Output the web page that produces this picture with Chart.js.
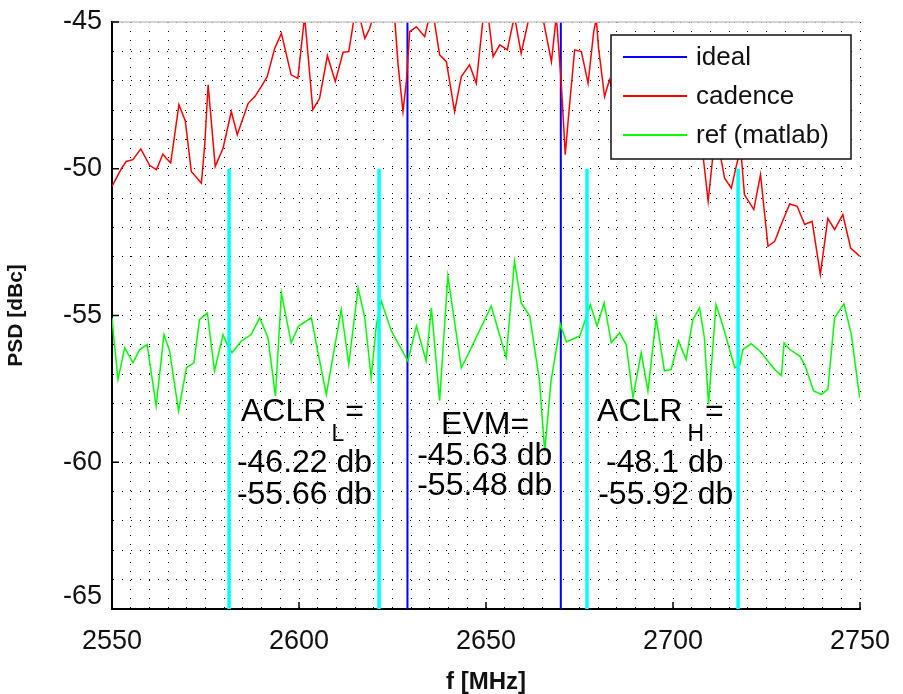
<!DOCTYPE html>
<html>
<head>
<meta charset="utf-8">
<script src="https://cdn.jsdelivr.net/npm/chart.js@4.4.1/dist/chart.umd.min.js"></script>
<style>
  html, body { margin: 0; padding: 0; background: #fff; }
</style>
</head>
<body>
<canvas id="psdChart" width="903" height="694"></canvas>
<script>
const FONT = '"Liberation Sans", Helvetica, Arial, sans-serif';

// cadence simulation, f [MHz] / PSD [dBc]
const cadenceFreq = [2550.0, 2552.5, 2553.8, 2555.6, 2557.7, 2560.1, 2561.9, 2563.6, 2564.5, 2565.7,
  2567.9, 2569.6, 2571.2, 2573.9, 2574.8, 2575.7, 2577.6, 2579.7, 2581.9, 2583.5,
  2586.4, 2588.2, 2589.9, 2591.5, 2593.5, 2595.3, 2597.9, 2599.7, 2601.5, 2603.7,
  2605.5, 2607.6, 2609.7, 2611.8, 2613.3, 2614.7, 2616.0, 2617.6, 2618.9, 2620.3,
  2622.2, 2624.0, 2625.6, 2626.5, 2627.8, 2628.7, 2629.6, 2631.4, 2633.6, 2634.7,
  2636.1, 2637.6, 2639.4, 2641.6, 2643.4, 2645.6, 2647.4, 2649.2, 2650.6, 2651.9,
  2653.7, 2655.7, 2657.6, 2659.4, 2661.6, 2664.8, 2667.5, 2668.8, 2670.1, 2671.2,
  2672.1, 2673.7, 2675.5, 2677.3, 2678.8, 2679.5, 2680.1, 2681.7, 2683.0, 2685.0,
  2687.0, 2689.0, 2691.0, 2693.0, 2695.0, 2697.0, 2699.0, 2701.0, 2703.0, 2705.0,
  2707.2, 2709.4, 2711.2, 2712.6, 2713.8, 2715.6, 2716.9, 2718.1, 2719.1, 2721.6,
  2723.4, 2725.4, 2727.2, 2729.1, 2731.2, 2733.2, 2735.2, 2737.2, 2739.4, 2741.4,
  2743.2, 2745.4, 2747.5, 2749.9];
const cadencePsd = [-50.60, -50.00, -49.75, -49.69, -49.32, -49.89, -50.03, -49.50, -49.64, -49.80,
  -47.82, -48.37, -50.09, -50.49, -49.18, -47.14, -49.92, -49.30, -48.05, -48.84,
  -47.77, -47.54, -47.20, -46.86, -45.90, -45.39, -46.80, -46.92, -44.80, -47.99,
  -47.60, -46.15, -47.03, -46.03, -46.01, -44.90, -44.70, -45.56, -45.22, -44.60,
  -44.40, -44.70, -44.90, -46.46, -48.05, -47.03, -45.33, -45.16, -45.50, -44.90,
  -44.90, -46.12, -46.35, -48.05, -46.86, -46.46, -47.09, -44.90, -44.80, -46.18,
  -45.78, -45.95, -44.80, -46.07, -44.80, -44.60, -46.35, -44.80, -47.03, -49.52,
  -48.16, -45.95, -46.01, -47.09, -45.33, -44.90, -45.90, -47.54, -46.97, -47.80,
  -47.20, -48.30, -47.60, -48.60, -48.00, -49.00, -48.40, -49.30, -48.70, -49.40,
  -48.60, -51.11, -48.90, -49.50, -50.32, -50.66, -49.92, -49.30, -50.88, -51.39,
  -50.20, -52.64, -52.47, -51.85, -51.20, -51.28, -51.90, -51.79, -53.60, -51.69,
  -52.07, -51.56, -52.70, -52.98];

// reference (matlab)
const refFreq = [2550.0, 2550.4, 2551.6, 2553.4, 2555.6, 2557.4, 2559.4, 2561.8, 2563.9, 2565.4,
  2567.8, 2569.9, 2571.9, 2573.4, 2575.5, 2577.4, 2579.7, 2580.8, 2582.1, 2584.6,
  2587.2, 2589.5, 2591.7, 2593.7, 2595.3, 2597.9, 2599.9, 2603.3, 2605.0, 2607.3,
  2609.5, 2611.3, 2613.3, 2615.8, 2617.6, 2619.3, 2620.7, 2622.0, 2624.7, 2629.1,
  2631.4, 2634.0, 2635.4, 2637.6, 2639.8, 2643.4, 2645.2, 2651.4, 2655.4, 2657.6,
  2659.4, 2661.7, 2664.3, 2665.7, 2667.4, 2669.9, 2671.5, 2675.1, 2677.9, 2679.7,
  2681.6, 2683.5, 2685.7, 2687.5, 2689.3, 2691.5, 2693.3, 2695.5, 2697.7, 2699.5,
  2701.5, 2703.5, 2705.3, 2707.1, 2708.4, 2709.5, 2711.5, 2713.5, 2716.5, 2717.8,
  2718.7, 2720.9, 2723.2, 2727.2, 2729.0, 2729.7, 2731.2, 2733.9, 2735.2, 2737.6,
  2739.7, 2741.4, 2743.2, 2745.7, 2747.7, 2749.9];
const refPsd = [-55.08, -55.65, -57.18, -56.10, -56.61, -56.16, -55.99, -58.08, -55.65, -56.21,
  -58.25, -56.78, -56.61, -55.14, -54.91, -56.89, -55.65, -55.99, -56.27, -55.87,
  -55.65, -55.08, -55.76, -57.74, -54.23, -55.93, -55.36, -55.08, -56.21, -57.69,
  -56.10, -54.80, -56.67, -54.06, -55.08, -57.12, -55.31, -54.51, -55.53, -56.55,
  -55.36, -56.55, -54.74, -57.90, -53.66, -56.78, -56.33, -54.68, -56.44, -53.15,
  -54.57, -55.02, -57.23, -59.62, -57.23, -55.31, -55.90, -55.70, -54.63, -55.36,
  -54.57, -55.93, -55.59, -55.99, -57.80, -56.27, -57.57, -55.08, -56.89, -56.84,
  -55.87, -56.50, -55.14, -54.74, -55.76, -58.03, -54.63, -55.42, -56.78, -56.70,
  -56.16, -55.96, -56.21, -56.84, -57.05, -55.93, -56.16, -56.38, -56.67, -57.57,
  -57.69, -57.52, -55.08, -54.60, -55.65, -57.80];

// ideal spectrum edges (top runs off the plot)
const idealFreq = [2629, 2629, 2670, 2670];
const idealPsd = [-65, -40, -40, -65];

// ACLR / EVM integration band edges
const bandEdgeFreq = [2581.3, 2621.4, 2677.0, 2717.4];
const bandEdgeTop = -50;
const bandEdgeBottom = -65;

const xMajorTicks = [2550, 2600, 2650, 2700, 2750];
const yMajorTicks = [-65, -60, -55, -50, -45];

// text notes, anchored at (MHz, dBc) of their left baseline
const notes = [
  { text: 'ACLR', sub: 'L', tail: '=', f: 2584.5, db: -58.6 },
  { text: '-46.22 db', f: 2583.4, db: -60.34 },
  { text: '-55.66 db', f: 2583.4, db: -61.43 },
  { text: 'EVM=', f: 2638.0, db: -59.05 },
  { text: '-45.63 db', f: 2631.6, db: -60.10 },
  { text: '-55.48 db', f: 2631.6, db: -61.12 },
  { text: 'ACLR', sub: 'H', tail: '=', f: 2679.7, db: -58.6 },
  { text: '-48.1 db', f: 2682.1, db: -60.34 },
  { text: '-55.92 db', f: 2680.0, db: -61.43 }
];

const toPoints = (xs, ys) => xs.map((x, i) => ({ x: x, y: ys[i] }));
const edgePoints = bandEdgeFreq.flatMap(f => [
  { x: f, y: bandEdgeTop }, { x: f, y: bandEdgeBottom }, { x: f, y: null }
]);

const overlay = {
  id: 'overlay',
  afterDatasetsDraw(chart) {
    const { ctx, chartArea: a, scales: { x, y } } = chart;
    ctx.save();
    // light top edge of the box
    ctx.strokeStyle = '#c8c8c8';
    ctx.lineWidth = 1.5;
    ctx.beginPath();
    ctx.moveTo(a.left, a.top);
    ctx.lineTo(a.right, a.top);
    ctx.stroke();

    // inward tick marks
    ctx.strokeStyle = '#000';
    ctx.lineWidth = 1.5;
    xMajorTicks.forEach(v => {
      const px = x.getPixelForValue(v);
      ctx.beginPath();
      ctx.moveTo(px, a.bottom);
      ctx.lineTo(px, a.bottom - 7);
      ctx.stroke();
    });
    yMajorTicks.forEach(v => {
      const py = y.getPixelForValue(v);
      ctx.beginPath();
      ctx.moveTo(a.left, py);
      ctx.lineTo(a.left + 7, py);
      ctx.stroke();
    });

    // notes
    ctx.fillStyle = '#000';
    ctx.textBaseline = 'alphabetic';
    ctx.textAlign = 'left';
    notes.forEach(n => {
      const px = x.getPixelForValue(n.f);
      const py = y.getPixelForValue(n.db);
      ctx.font = '32px ' + FONT;
      ctx.fillText(n.text, px, py);
      if (n.sub) {
        const w = ctx.measureText(n.text).width;
        ctx.font = '23px ' + FONT;
        const sw = ctx.measureText(n.sub).width;
        ctx.fillText(n.sub, px + w + 5, py + 20);
        ctx.font = '32px ' + FONT;
        ctx.fillText(n.tail, px + w + sw + 6, py);
      }
    });

    // bottom y label sits a bit higher in the original
    ctx.font = '27px ' + FONT;
    ctx.textAlign = 'right';
    ctx.textBaseline = 'middle';
    ctx.fillStyle = '#111';
    ctx.fillText('-65', a.left - 10, y.getPixelForValue(-65) - 12);
    ctx.restore();
  },
  afterDraw(chart) {
    const { ctx } = chart;
    const box = { left: 611, top: 35, width: 240, height: 124 };
    ctx.save();
    ctx.fillStyle = '#fff';
    ctx.fillRect(box.left, box.top, box.width, box.height);
    ctx.strokeStyle = '#111';
    ctx.lineWidth = 1.5;
    ctx.strokeRect(box.left, box.top, box.width, box.height);
    const rows = chart.data.datasets.filter(d => d.inLegend);
    ctx.font = '26px ' + FONT;
    ctx.textAlign = 'left';
    ctx.textBaseline = 'alphabetic';
    rows.forEach((d, i) => {
      const ly = box.top + 22 + i * 39;
      ctx.strokeStyle = d.borderColor;
      ctx.lineWidth = 2;
      ctx.beginPath();
      ctx.moveTo(box.left + 12, ly);
      ctx.lineTo(box.left + 76, ly);
      ctx.stroke();
      ctx.fillStyle = '#111';
      ctx.fillText(d.label, box.left + 85, ly + 8);
    });
    ctx.restore();
  }
};

new Chart(document.getElementById('psdChart'), {
  type: 'line',
  data: {
    datasets: [
      { label: 'ideal', inLegend: true, data: toPoints(idealFreq, idealPsd),
        borderColor: '#0000ff', borderWidth: 2, order: 3 },
      { label: 'cadence', inLegend: true, data: toPoints(cadenceFreq, cadencePsd),
        borderColor: '#ff0000', borderWidth: 1.5, order: 2 },
      { label: 'ref (matlab)', inLegend: true, data: toPoints(refFreq, refPsd),
        borderColor: '#00ff00', borderWidth: 1.5, order: 1 },
      { label: 'band edges', inLegend: false, data: edgePoints,
        borderColor: '#00ffff', borderWidth: 3.5, order: 0 }
    ]
  },
  options: {
    responsive: false,
    animation: false,
    events: [],
    elements: { point: { radius: 0 }, line: { tension: 0 } },
    layout: { padding: { left: 0, top: 22, right: 43, bottom: 0 } },
    plugins: { legend: { display: false }, tooltip: { enabled: false } },
    scales: {
      x: {
        type: 'linear',
        min: 2550,
        max: 2750,
        afterFit: s => {
          s.height = 85;
          s.paddingLeft = 0;
          s.paddingRight = 0;
        },
        ticks: {
          stepSize: 5,
          autoSkip: false,
          maxRotation: 0,
          padding: 16,
          color: '#111',
          font: { family: FONT, size: 27 },
          callback: v => (Math.round(v) % 50 === 0 ? String(Math.round(v)) : '')
        },
        grid: { color: '#000', lineWidth: 1, drawTicks: false },
        border: { color: '#000', width: 2, dash: [1, 8] },
        title: { display: true, text: 'f [MHz]', color: '#111',
          font: { family: FONT, size: 24, weight: 'bold', lineHeight: 1 }, padding: { top: 0, bottom: 0 } }
      },
      y: {
        min: -65,
        max: -45,
        afterFit: s => {
          s.width = 112;
          s.paddingTop = 0;
          s.paddingBottom = 0;
        },
        ticks: {
          stepSize: 1,
          autoSkip: false,
          padding: 10,
          color: '#111',
          font: { family: FONT, size: 27 },
          callback: v => (Math.round(v) % 5 === 0 && Math.round(v) !== -65 ? String(Math.round(v)) : '')
        },
        grid: { color: '#000', lineWidth: 1, drawTicks: false },
        border: { color: '#000', width: 2, dash: [1, 8] },
        title: { display: true, text: 'PSD [dBc]', color: '#111',
          font: { family: FONT, size: 21, weight: 'bold' }, padding: { top: 4, bottom: 0 } }
      }
    }
  },
  plugins: [overlay]
});
</script>
</body>
</html>
